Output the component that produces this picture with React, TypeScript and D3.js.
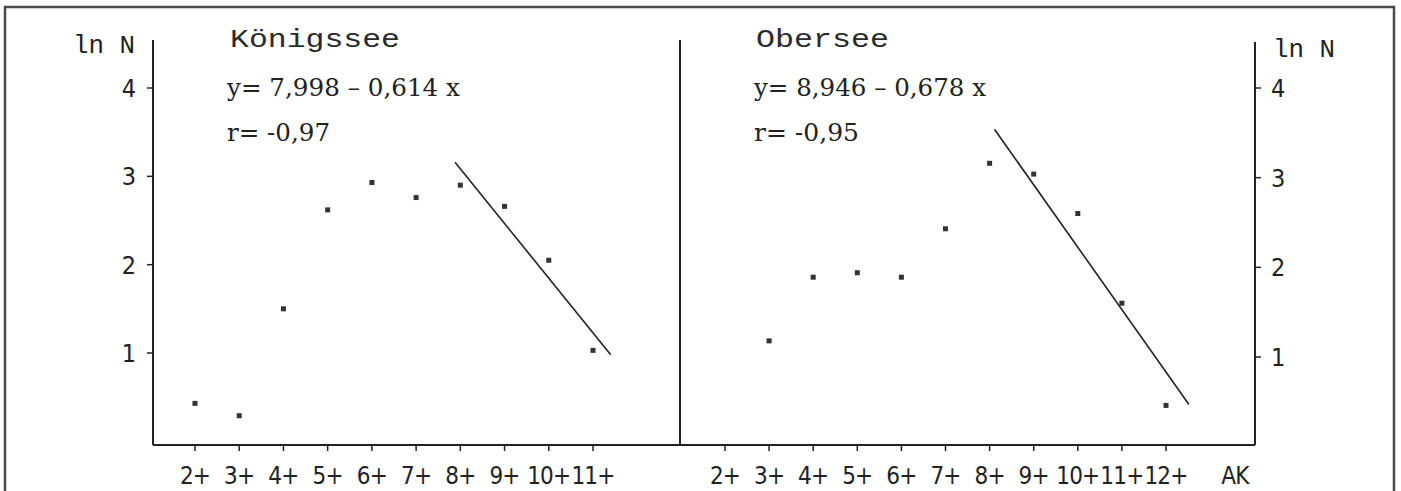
import React from 'react';
import * as d3 from 'd3';

// ---- data ----
const koenigsseeAges = [2, 3, 4, 5, 6, 7, 8, 9, 10, 11];
const koenigsseeLnN = [0.43, 0.29, 1.5, 2.62, 2.93, 2.76, 2.9, 2.66, 2.05, 1.03];
const koenigsseeFitX = [7.88, 11.4];
const koenigsseeFitY = [3.16, 0.98];

const oberseeAges = [3, 4, 5, 6, 7, 8, 9, 10, 11, 12];
const oberseeLnN = [1.18, 1.89, 1.94, 1.89, 2.43, 3.16, 3.04, 2.6, 1.6, 0.46];
const oberseeFitX = [8.11, 12.52];
const oberseeFitY = [3.54, 0.47];

const leftAgeTicks = [2, 3, 4, 5, 6, 7, 8, 9, 10, 11];
const rightAgeTicks = [2, 3, 4, 5, 6, 7, 8, 9, 10, 11, 12];
const yTicks = [1, 2, 3, 4];

const leftTitle = 'Königssee';
const leftEquation = 'y= 7,998 – 0,614 x';
const leftR = 'r= -0,97';
const rightTitle = 'Obersee';
const rightEquation = 'y= 8,946 – 0,678 x';
const rightR = 'r= -0,95';
const yAxisTitle = 'ln N';
const xAxisTitle = 'AK';

const MONO = "'Liberation Mono', 'DejaVu Sans Mono', monospace";
const SERIF = "'DejaVu Serif', 'Liberation Serif', serif";
const SANS = "'DejaVu Sans Condensed', 'Liberation Sans Narrow', 'DejaVu Sans', sans-serif";
const INK = '#222';

export default function App() {
  const W = 1401;
  const H = 491;

  const xL = d3.scaleLinear().domain([2, 11]).range([195, 593]);
  const xR = d3.scaleLinear().domain([2, 12]).range([725, 1166]);
  const yL = d3.scaleLinear().domain([1, 4]).range([353, 88]);
  const yR = d3.scaleLinear().domain([1, 4]).range([357, 88]);

  const axisTop = 40;
  const axisBottom = 445;
  const leftAxisX = 153;
  const dividerX = 680;
  const rightAxisX = 1255;

  const fitLine = d3.line<[number, number]>();
  const leftFit = fitLine(koenigsseeFitX.map((v, i) => [xL(v), yL(koenigsseeFitY[i])] as [number, number]));
  const rightFit = fitLine(oberseeFitX.map((v, i) => [xR(v), yR(oberseeFitY[i])] as [number, number]));

  const xLabelProps = {
    textAnchor: 'middle' as const,
    fontFamily: SANS,
    fontSize: 24,
    letterSpacing: -0.8,
    fill: INK,
  };

  return (
    <svg width={W} height={H} style={{ position: 'absolute', left: 0, top: 0, background: '#fff' }}>
      <rect x={0} y={0} width={W} height={H} fill="#fff" />
      {/* outer frame */}
      <path d={`M5,${H + 5} V7 H1394 V${H + 5}`} fill="none" stroke="#4a4a4a" strokeWidth={2.5} />

      {/* axes */}
      <g stroke={INK} strokeWidth={2} fill="none">
        <line x1={leftAxisX} y1={axisTop} x2={leftAxisX} y2={axisBottom} />
        <line x1={leftAxisX} y1={axisBottom} x2={rightAxisX} y2={axisBottom} />
        <line x1={dividerX} y1={axisTop} x2={dividerX} y2={axisBottom} />
        <line x1={rightAxisX} y1={axisTop + 2} x2={rightAxisX} y2={axisBottom} />
      </g>

      {/* left y ticks */}
      {yTicks.map((t) => (
        <g key={'yl' + t}>
          <line x1={leftAxisX - 6} x2={leftAxisX} y1={yL(t)} y2={yL(t)} stroke={INK} strokeWidth={1.5} />
          <text x={136} y={yL(t) + 9} textAnchor="end" fontFamily={SANS} fontSize={25} fill={INK}>
            {t}
          </text>
        </g>
      ))}
      {/* right y ticks */}
      {yTicks.map((t) => (
        <g key={'yr' + t}>
          <line x1={rightAxisX} x2={rightAxisX + 6} y1={yR(t)} y2={yR(t)} stroke={INK} strokeWidth={1.5} />
          <text x={1271} y={yR(t) + 9} textAnchor="start" fontFamily={SANS} fontSize={25} fill={INK}>
            {t}
          </text>
        </g>
      ))}

      {/* bottom ticks and labels */}
      {leftAgeTicks.map((a) => (
        <g key={'xl' + a}>
          <line x1={xL(a)} x2={xL(a)} y1={axisBottom} y2={axisBottom + 6} stroke={INK} strokeWidth={1.5} />
          <text x={xL(a)} y={484} {...xLabelProps}>
            {a + '+'}
          </text>
        </g>
      ))}
      {rightAgeTicks.map((a) => (
        <g key={'xr' + a}>
          <line x1={xR(a)} x2={xR(a)} y1={axisBottom} y2={axisBottom + 6} stroke={INK} strokeWidth={1.5} />
          <text x={xR(a)} y={484} {...xLabelProps}>
            {a + '+'}
          </text>
        </g>
      ))}
      <text x={1235} y={484} {...xLabelProps}>
        {xAxisTitle}
      </text>

      {/* axis titles */}
      <text x={73} y={53} fontFamily={MONO} fontSize={25} textLength={62} lengthAdjust="spacingAndGlyphs" fill={INK}>
        {yAxisTitle}
      </text>
      <text x={1273} y={57} fontFamily={MONO} fontSize={25} textLength={62} lengthAdjust="spacingAndGlyphs" fill={INK}>
        {yAxisTitle}
      </text>

      {/* panel titles and equations */}
      <text x={230} y={47} fontFamily={MONO} fontSize={26} textLength={170} lengthAdjust="spacingAndGlyphs" fill="#2a2a2a">
        {leftTitle}
      </text>
      <text x={227} y={96} fontFamily={SERIF} fontSize={25} textLength={233} lengthAdjust="spacingAndGlyphs" fill={INK}>
        {leftEquation}
      </text>
      <text x={227} y={141} fontFamily={SERIF} fontSize={25} textLength={103} lengthAdjust="spacingAndGlyphs" fill={INK}>
        {leftR}
      </text>

      <text x={756} y={47} fontFamily={MONO} fontSize={26} textLength={133} lengthAdjust="spacingAndGlyphs" fill="#2a2a2a">
        {rightTitle}
      </text>
      <text x={754} y={96} fontFamily={SERIF} fontSize={25} textLength={232} lengthAdjust="spacingAndGlyphs" fill={INK}>
        {rightEquation}
      </text>
      <text x={754} y={141} fontFamily={SERIF} fontSize={25} textLength={105} lengthAdjust="spacingAndGlyphs" fill={INK}>
        {rightR}
      </text>

      {/* regression lines */}
      <path d={leftFit || ''} stroke={INK} strokeWidth={1.6} fill="none" />
      <path d={rightFit || ''} stroke={INK} strokeWidth={1.6} fill="none" />

      {/* points */}
      {koenigsseeAges.map((a, i) => (
        <rect key={'pk' + a} x={xL(a) - 2.5} y={yL(koenigsseeLnN[i]) - 2.5} width={5} height={5} fill="#333" />
      ))}
      {oberseeAges.map((a, i) => (
        <rect key={'po' + a} x={xR(a) - 2.5} y={yR(oberseeLnN[i]) - 2.5} width={5} height={5} fill="#333" />
      ))}
    </svg>
  );
}
